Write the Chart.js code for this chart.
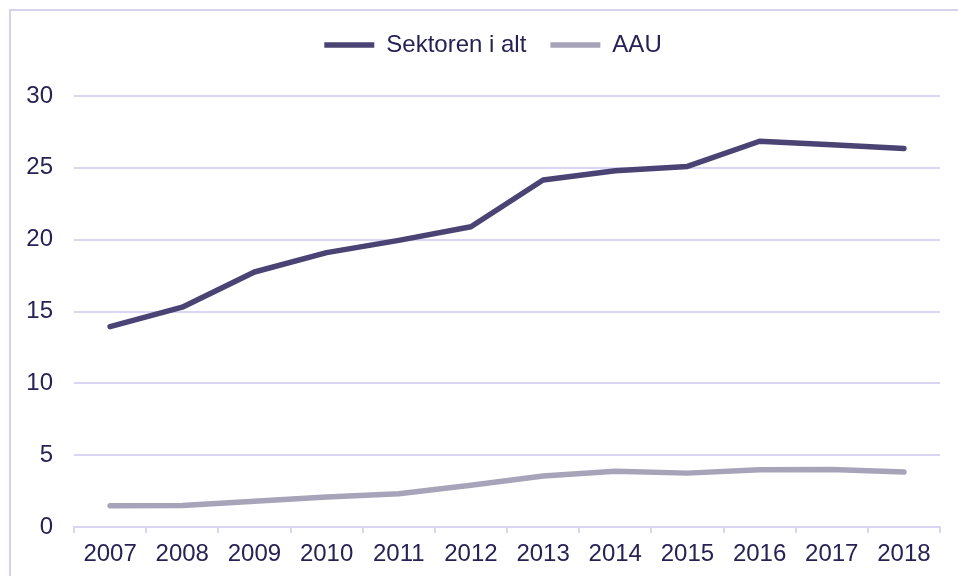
<!DOCTYPE html>
<html>
<head>
<meta charset="utf-8">
<script src="https://cdn.jsdelivr.net/npm/chart.js@4"></script>
<style>
  html, body { margin: 0; padding: 0; background: #ffffff; }
  #wrap { width: 958px; height: 576px; position: relative; }
</style>
</head>
<body>
<div id="wrap"><canvas id="c" width="958" height="576"></canvas></div>
<script>
const categories = ['2007','2008','2009','2010','2011','2012','2013','2014','2015','2016','2017','2018'];
const sektorenValues = [13.95, 15.3, 17.75, 19.1, 19.95, 20.9, 24.15, 24.8, 25.1, 26.85, 26.6, 26.35];
const aauValues = [1.48, 1.5, 1.8, 2.08, 2.32, 2.9, 3.55, 3.88, 3.75, 3.98, 4.0, 3.82];
const seriesNames = ['Sektoren i alt', 'AAU'];
const yTicks = { min: 0, max: 30, step: 5 };

const textColor = '#262254';
const gridColor = '#d9d5f3';
const fontFamily = '"Liberation Sans", Arial, sans-serif';

const framePlugin = {
  id: 'frame',
  beforeDraw(chart) {
    const ctx = chart.ctx;
    ctx.save();
    ctx.fillStyle = '#ffffff';
    ctx.fillRect(0, 0, chart.width, chart.height);
    ctx.strokeStyle = '#d6d2ee';
    ctx.lineWidth = 2;
    ctx.strokeRect(10, 10, chart.width + 20, chart.height + 20);
    ctx.restore();
  }
};

const legendHeightPlugin = {
  id: 'legendHeight',
  beforeInit(chart) {
    const origFit = chart.legend.fit;
    chart.legend.fit = function () {
      origFit.call(this);
      this.height = 87;
    };
  },
  afterLayout(chart) {
    chart.legend.left += 23;
    chart.legend.right += 23;
  }
};

new Chart(document.getElementById('c'), {
  type: 'line',
  data: {
    labels: categories,
    datasets: [
      {
        label: seriesNames[0],
        data: sektorenValues,
        borderColor: '#4a4475',
        backgroundColor: '#4a4475',
        borderWidth: 5.5,
        borderCapStyle: 'round',
        borderJoinStyle: 'round',
        pointRadius: 0,
        pointStyle: 'line',
        tension: 0,
        fill: false
      },
      {
        label: seriesNames[1],
        data: aauValues,
        borderColor: '#a7a3b9',
        backgroundColor: '#a7a3b9',
        borderWidth: 5.5,
        borderCapStyle: 'round',
        borderJoinStyle: 'round',
        pointRadius: 0,
        pointStyle: 'line',
        tension: 0,
        fill: false
      }
    ]
  },
  options: {
    responsive: false,
    animation: false,
    devicePixelRatio: 1,
    layout: { padding: { left: 0, right: 18, top: 9, bottom: 0 } },
    plugins: {
      legend: {
        display: true,
        position: 'top',
        labels: {
          usePointStyle: true,
          pointStyleWidth: 50,
          boxHeight: 6,
          padding: 24,
          color: textColor,
          font: { family: fontFamily, size: 24 }
        }
      },
      tooltip: { enabled: false }
    },
    scales: {
      x: {
        offset: true,
        grid: {
          display: true,
          offset: true,
          drawOnChartArea: false,
          drawTicks: true,
          tickLength: 6,
          color: gridColor,
          lineWidth: 2
        },
        border: { display: true, color: gridColor, width: 2 },
        ticks: {
          color: textColor,
          font: { family: fontFamily, size: 24 },
          padding: 7,
          maxRotation: 0,
          autoSkip: false
        },
        afterFit(scale) { scale.height = 49; }
      },
      y: {
        min: yTicks.min,
        max: yTicks.max,
        grid: {
          color: gridColor,
          lineWidth: 2,
          drawTicks: false
        },
        border: { display: false },
        ticks: {
          stepSize: yTicks.step,
          color: textColor,
          font: { family: fontFamily, size: 24 },
          padding: 21
        },
        afterFit(scale) { scale.width = 74; }
      }
    }
  },
  plugins: [framePlugin, legendHeightPlugin]
});
</script>
</body>
</html>
